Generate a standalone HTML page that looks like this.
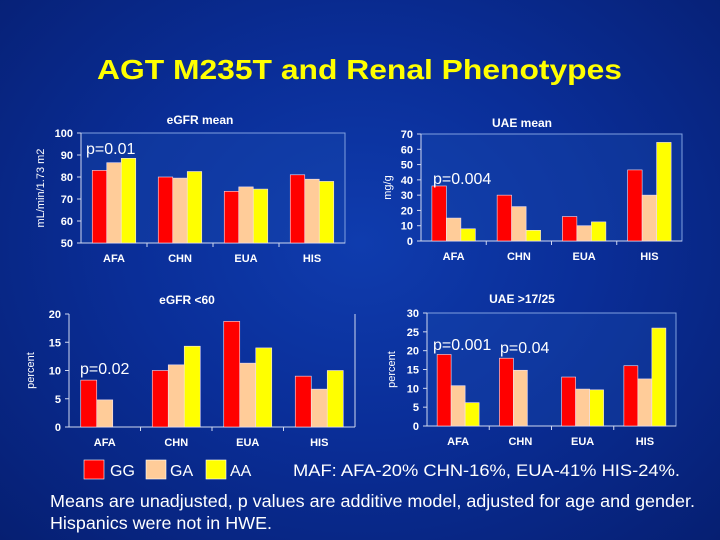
<!DOCTYPE html>
<html><head><meta charset="utf-8"><style>
body{margin:0;width:720px;height:540px;overflow:hidden;background:#06237e;font-family:"Liberation Sans",sans-serif}
#bg{position:absolute;left:0;top:0;width:720px;height:540px;background:radial-gradient(ellipse at 50% 45%,#0f3cae 0%,#0a2e98 45%,#061f72 100%)}
svg{position:absolute;left:0;top:0}
</style></head><body>
<div id="bg"></div>
<svg id="s" width="720" height="540">
<text x="97" y="79" textLength="525" lengthAdjust="spacingAndGlyphs" fill="#ffff00" font-size="28" font-weight="bold">AGT M235T and Renal Phenotypes</text>
<g>
<rect x="84" y="460" width="20" height="19" fill="#ff0000" stroke="#fff" stroke-width="0.6"/>
<text x="110" y="476" fill="#fff" font-size="16">GG</text>
<rect x="146" y="460" width="20" height="19" fill="#ffcc99" stroke="#fff" stroke-width="0.6"/>
<text x="170" y="476" fill="#fff" font-size="16">GA</text>
<rect x="206" y="460" width="20" height="19" fill="#ffff00" stroke="#fff" stroke-width="0.6"/>
<text x="230" y="476" fill="#fff" font-size="16">AA</text>
</g>
<text x="293" y="476" textLength="387" lengthAdjust="spacingAndGlyphs" fill="#fff" font-size="17">MAF: AFA-20% CHN-16%, EUA-41% HIS-24%.</text>
<text x="50" y="507" textLength="645" lengthAdjust="spacingAndGlyphs" fill="#fff" font-size="17.5">Means are unadjusted, p values are additive model, adjusted for age and gender.</text>
<text x="50" y="529" textLength="222" lengthAdjust="spacingAndGlyphs" fill="#fff" font-size="17.5">Hispanics were not in HWE.</text>
</svg>
<script>
const categories = ["AFA","CHN","EUA","HIS"];
const egfrGG = [83,80,73.5,81];
const egfrGA = [86.5,79.5,75.5,79];
const egfrAA = [88.5,82.5,74.5,78];
const egfrTicks = [50,60,70,80,90,100];
const uaeGG = [36,30,16,46.5];
const uaeGA = [15,22.5,10,30];
const uaeAA = [8,7,12.5,64.5];
const uaeTicks = [0,10,20,30,40,50,60,70];
const lowGG = [8.3,10,18.7,9];
const lowGA = [4.8,11,11.3,6.7];
const lowAA = [null,14.3,14,10];
const lowTicks = [0,5,10,15,20];
const highGG = [19,18,13,16];
const highGA = [10.7,14.8,9.8,12.5];
const highAA = [6.2,null,9.6,26];
const highTicks = [0,5,10,15,20,25,30];
const colors = ["#ff0000","#ffcc99","#ffff00"];
const NS="http://www.w3.org/2000/svg";
const svg=document.getElementById('s');
function mk(tag,attrs,parent){const e=document.createElementNS(NS,tag);for(const k in attrs)e.setAttribute(k,attrs[k]);(parent||svg).appendChild(e);return e;}
function chart(c){
  const g=mk('g',{});
  
  
  const min=c.ticks[0],max=c.ticks[c.ticks.length-1];
  const y=v=>c.y1-(v-min)/(max-min)*(c.y1-c.y0);
  const gw=(c.x1-c.x0)/categories.length;
  const x=i=>c.x0+gw*i+gw/2;
  if(c.frame){const f=mk('rect',{x:c.x0,y:c.y0,width:c.x1-c.x0,height:c.y1-c.y0,fill:'#1a4ab0',stroke:'#7f9fdf','stroke-width':1,'fill-opacity':0.35},g);
    }
  else{const r=mk('line',{x1:c.x1,y1:c.y0,x2:c.x1,y2:c.y1,stroke:'#cfd8f0'},g);}
  const ax=mk('line',{x1:c.x0,y1:c.y0,x2:c.x0,y2:c.y1,stroke:'#cfd8f0'},g);
  
  const bx=mk('line',{x1:c.x0,y1:c.y1,x2:c.x1,y2:c.y1,stroke:'#cfd8f0'},g);
  
  c.ticks.forEach(t=>{
    const l=mk('line',{x1:c.x0-4,y1:y(t),x2:c.x0,y2:y(t),stroke:'#cfd8f0'},g);
    
    const tx=mk('text',{x:c.x0-8,y:y(t)+4,'text-anchor':'end',fill:'#fff','font-size':11,'font-weight':'bold'},g);tx.textContent=t;
    
  });
  for(let i=1;i<categories.length;i++){const l=mk('line',{x1:c.x0+gw*i,y1:c.y1,x2:c.x0+gw*i,y2:c.y1+4,stroke:'#cfd8f0'},g);}
  categories.forEach((cat,i)=>{
    const tx=mk('text',{x:x(i),y:c.y1+19,'text-anchor':'middle',fill:'#fff','font-size':11,'font-weight':'bold'},g);tx.textContent=cat;
    
    c.series.forEach((s,j)=>{
      if(s[i]==null)return;
      const bxp=x(i)-1.5*c.bw+j*c.bw;
      const r=mk('rect',{x:bxp,y:y(s[i]),width:c.bw,height:c.y1-y(s[i]),fill:colors[j],stroke:'#f0e0f0','stroke-width':0.6},g);
      
      
    });
  });
  const t=mk('text',{x:c.tx,y:c.ty,'text-anchor':'middle',fill:'#fff','font-size':12,'font-weight':'bold'},g);t.textContent=c.title;
  
  const yl=mk('text',{x:0,y:0,'text-anchor':'middle',fill:'#fff','font-size':11,transform:`translate(${c.ylx},${(c.y0+c.y1)/2}) rotate(-90)`},g);yl.textContent=c.ylabel;
  
  c.pv.forEach(p=>{const tx=mk('text',{x:p[1],y:p[2],fill:'#fff','font-size':16},g);tx.textContent=p[0];
    });
}
chart({name:'egfr-mean-chart',x0:81,x1:345,y0:133,y1:243,ticks:egfrTicks,series:[egfrGG,egfrGA,egfrAA],bw:14.5,frame:true,title:'eGFR mean',tx:200,ty:124,ylabel:'mL/min/1.73 m2',ylx:44,pv:[['p=0.01',86,154]]});
chart({name:'uae-mean-chart',x0:421,x1:682,y0:134,y1:241,ticks:uaeTicks,series:[uaeGG,uaeGA,uaeAA],bw:14.5,frame:true,title:'UAE mean',tx:522,ty:127,ylabel:'mg/g',ylx:391,pv:[['p=0.004',433,184]]});
chart({name:'egfr-below-60-chart',x0:69,x1:355,y0:314,y1:427,ticks:lowTicks,series:[lowGG,lowGA,lowAA],bw:16,frame:false,title:'eGFR <60',tx:187,ty:304,ylabel:'percent',ylx:34,pv:[['p=0.02',80,374]]});
chart({name:'uae-above-17-25-chart',x0:427,x1:676,y0:313,y1:426,ticks:highTicks,series:[highGG,highGA,highAA],bw:14,frame:true,title:'UAE >17/25',tx:522,ty:303,ylabel:'percent',ylx:395,pv:[['p=0.001',433,350],['p=0.04',500,353]]});
</script>
</body></html>
